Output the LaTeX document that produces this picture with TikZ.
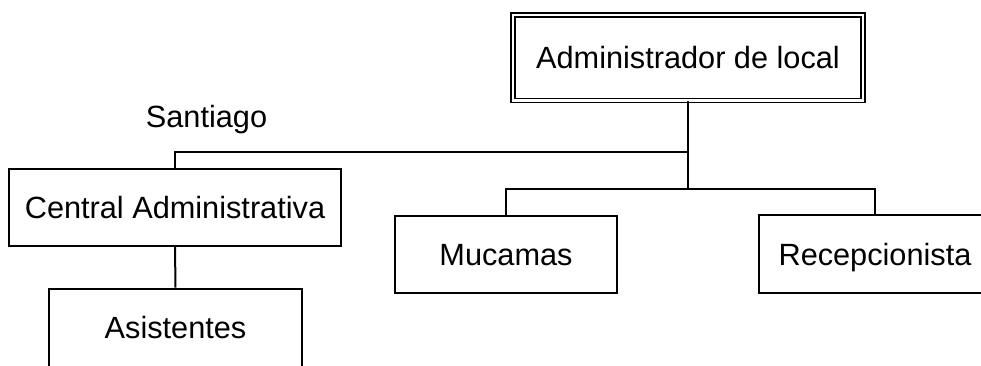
\documentclass[tikz,border=0pt]{standalone}
\usepackage{fontspec}
\setmainfont{Liberation Sans}
\begin{document}
\begin{tikzpicture}[x=0.5pt,y=-0.5pt,
  lbl/.style={font=\fontsize{15.35}{18}\selectfont, text height=11pt, text depth=0pt, inner sep=0pt},
  orgbox/.style={lbl, draw, line width=1pt},
  link/.style={line width=1pt}]
\useasboundingbox (0,0) rectangle (981,365);
\node[orgbox, double, line width=0.8pt, double distance=1.2pt, minimum width=175pt, minimum height=42.75pt] (admin) at (688,57.75) {Administrador de local};
\node[orgbox, minimum width=166pt, minimum height=38.5pt] (central) at (175,207.5) {Central Administrativa};
\node[orgbox, minimum width=111pt, minimum height=38.5pt] (mucamas) at (506,254.5) {Mucamas};
\node[orgbox, minimum width=116pt, minimum height=39pt] (recep) at (875,254) {Recepcionista};
\node[orgbox, minimum width=126.5pt, minimum height=39pt] (asist) at (175.5,327.5) {Asistentes};
\node[lbl, anchor=base] (santiago) at (206.5,127) {Santiago};
\coordinate (j1) at (688,152);
\coordinate (j2) at (688,188.5);
\draw[link] (admin.south) -- (j2);
\draw[link] (j1) -| (central.north);
\draw[link] (mucamas.north) |- (j2) -| (recep.north);
\draw[link] (central.south) -- (asist.north);
\end{tikzpicture}
\end{document}
